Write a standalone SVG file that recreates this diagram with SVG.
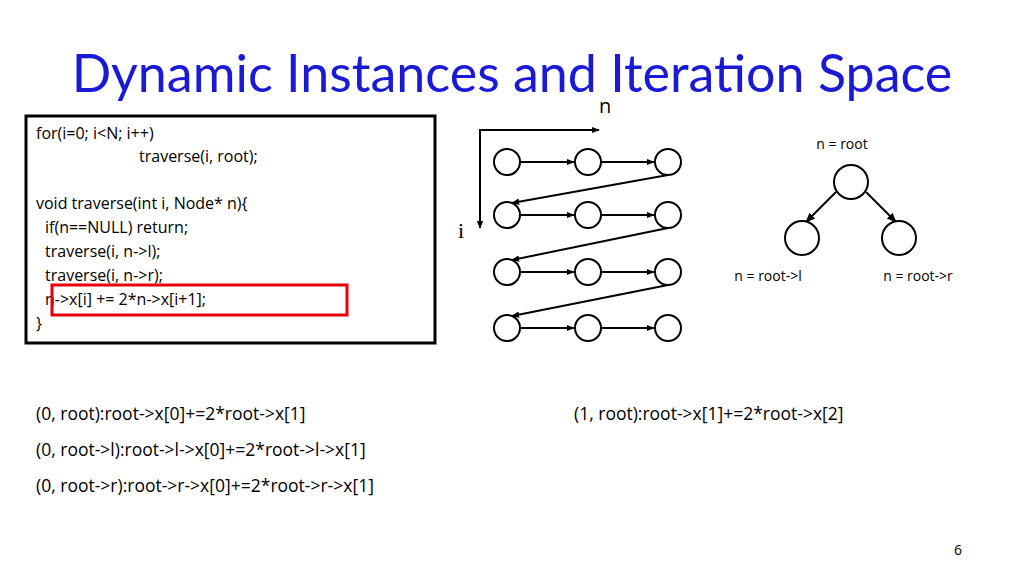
<svg xmlns="http://www.w3.org/2000/svg" width="1024" height="576" viewBox="0 0 1024 576">
<defs>
<marker id="ah" viewBox="0 0 10 10" refX="9" refY="5" markerWidth="8" markerHeight="8" markerUnits="userSpaceOnUse" orient="auto"><path d="M0,1 L10,5 L0,9 z" fill="#000"/></marker>
<marker id="ah2" viewBox="0 0 10 10" refX="9" refY="5" markerWidth="10" markerHeight="10" markerUnits="userSpaceOnUse" orient="auto"><path d="M0,1 L10,5 L0,9 z" fill="#000"/></marker>
</defs>
<style>
text{font-family:"Open Sans","Liberation Sans",sans-serif;fill:#000}
.code{font-size:16px}
.sm{font-size:14px}
.ex{font-size:17.5px}
circle{fill:#fff;stroke:#000;stroke-width:2}
.c line{stroke:#000;stroke-width:2}
</style>
<rect width="1024" height="576" fill="#fff"/>
<text x="512" y="92" text-anchor="middle" style="font-family:Lato,'Open Sans',sans-serif;font-size:52px;fill:#1a1ad6">Dynamic Instances and Iteration Space</text>
<g id="code">
<rect x="26" y="116" width="409" height="227" fill="#fff" stroke="#000" stroke-width="3"/>
<text class="code" x="36" y="139">for(i=0; i&lt;N; i++)</text>
<text class="code" x="139" y="162">traverse(i, root);</text>
<text class="code" x="36" y="209">void traverse(int i, Node* n){</text>
<text class="code" x="45" y="233">if(n==NULL) return;</text>
<text class="code" x="45" y="257">traverse(i, n-&gt;l);</text>
<text class="code" x="45" y="281">traverse(i, n-&gt;r);</text>
<text class="code" x="45" y="305">n-&gt;x[i] += 2*n-&gt;x[i+1];</text>
<text class="code" x="36" y="329">}</text>
<rect x="52" y="285" width="295" height="30" fill="none" stroke="#e8000b" stroke-width="3"/>
</g>
<text x="599" y="113" style="font-size:20px">n</text>
<text x="458" y="238" style="font-family:'Liberation Serif',serif;font-size:22px">i</text>
<g class="c" id="connectors">
<line x1="479" y1="130" x2="599" y2="130" marker-end="url(#ah)"/>
<line x1="480" y1="129" x2="480" y2="228" marker-end="url(#ah)"/>
<line x1="520" y1="162" x2="574" y2="162" marker-end="url(#ah)"/>
<line x1="601" y1="162" x2="654" y2="162" marker-end="url(#ah)"/>
<line x1="520" y1="215" x2="574" y2="215" marker-end="url(#ah)"/>
<line x1="601" y1="215" x2="654" y2="215" marker-end="url(#ah)"/>
<line x1="520" y1="272" x2="574" y2="272" marker-end="url(#ah)"/>
<line x1="601" y1="272" x2="654" y2="272" marker-end="url(#ah)"/>
<line x1="520" y1="328" x2="574" y2="328" marker-end="url(#ah)"/>
<line x1="601" y1="328" x2="654" y2="328" marker-end="url(#ah)"/>
<line x1="668" y1="175" x2="512" y2="203" marker-end="url(#ah)"/>
<line x1="668" y1="228" x2="512" y2="260" marker-end="url(#ah)"/>
<line x1="668" y1="285" x2="512" y2="316" marker-end="url(#ah)"/>
<line x1="836" y1="192" x2="806" y2="222" marker-end="url(#ah2)"/>
<line x1="866" y1="192" x2="896" y2="222" marker-end="url(#ah2)"/>
</g>
<g id="grid">
<circle cx="507" cy="162" r="13"/><circle cx="588" cy="162" r="13"/><circle cx="668" cy="162" r="13"/>
<circle cx="507" cy="215" r="13"/><circle cx="588" cy="215" r="13"/><circle cx="668" cy="215" r="13"/>
<circle cx="507" cy="272" r="13"/><circle cx="588" cy="272" r="13"/><circle cx="668" cy="272" r="13"/>
<circle cx="507" cy="328" r="13"/><circle cx="588" cy="328" r="13"/><circle cx="668" cy="328" r="13"/>
</g>
<g id="root"><circle cx="851" cy="182" r="17"/><text class="sm" x="842" y="149" text-anchor="middle">n = root</text></g>
<g id="left"><circle cx="802" cy="238" r="17"/><text class="sm" x="768" y="281" text-anchor="middle">n = root-&gt;l</text></g>
<g id="right"><circle cx="899" cy="238" r="17"/><text class="sm" x="918" y="281" text-anchor="middle">n = root-&gt;r</text></g>
<text class="ex" x="36" y="420">(0, root):root-&gt;x[0]+=2*root-&gt;x[1]</text>
<text class="ex" x="36" y="456">(0, root-&gt;l):root-&gt;l-&gt;x[0]+=2*root-&gt;l-&gt;x[1]</text>
<text class="ex" x="36" y="492">(0, root-&gt;r):root-&gt;r-&gt;x[0]+=2*root-&gt;r-&gt;x[1]</text>
<text class="ex" x="574" y="420">(1, root):root-&gt;x[1]+=2*root-&gt;x[2]</text>
<text x="958" y="555" style="font-size:14px" text-anchor="middle">6</text>
</svg>
